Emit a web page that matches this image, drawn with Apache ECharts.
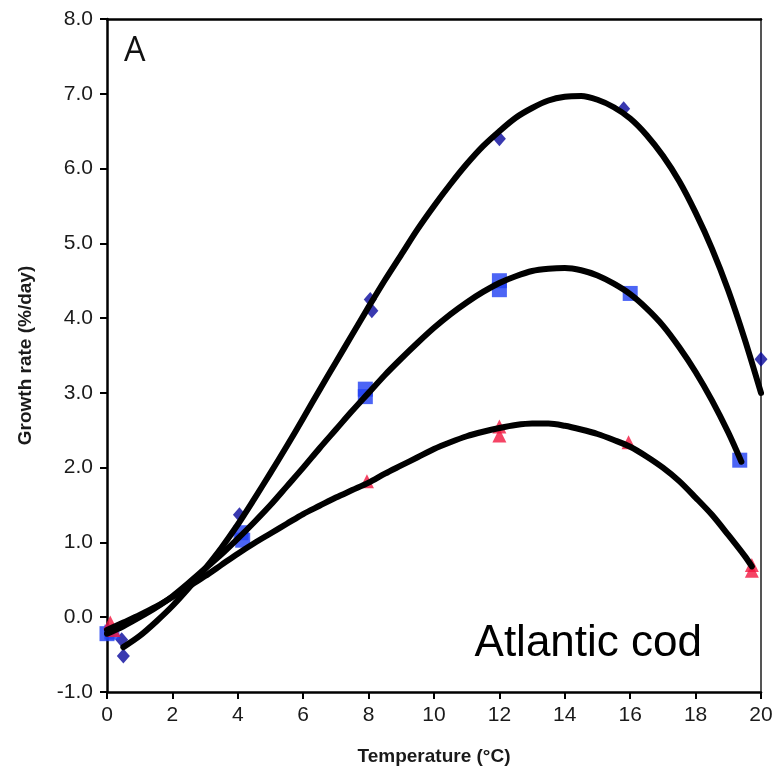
<!DOCTYPE html>
<html>
<head>
<meta charset="utf-8">
<script src="https://cdn.jsdelivr.net/npm/echarts@6/dist/echarts.min.js"></script>
<style>
html,body{margin:0;padding:0;background:#fff;}
#chart{width:777px;height:771px;}
</style>
</head>
<body>
<div id="chart"></div>
<script>
// Observed points (temperature °C, growth rate %/day)
var diamondT = [0.45, 0.5, 4.05, 8.05, 8.1, 12.0, 15.8, 20.0];
var diamondG = [-0.3, -0.52, 1.37, 4.25, 4.1, 6.4, 6.8, 3.45];
var squareT = [0.0, 0.15, 4.1, 4.15, 7.9, 7.9, 12.0, 12.0, 16.0, 19.35];
var squareG = [-0.22, -0.2, 1.13, 1.03, 3.05, 2.95, 4.5, 4.38, 4.33, 2.1];
var triT = [0.1, 0.2, 7.95, 12.0, 12.0, 15.95, 19.72, 19.72];
var triG = [-0.07, -0.17, 1.82, 2.55, 2.43, 2.34, 0.7, 0.62];

// Fitted curves, every 0.5 °C
var topCurveT = [0.5, 1, 1.5, 2, 2.5, 3, 3.5, 4, 4.5, 5, 5.5, 6, 6.5, 7, 7.5, 8, 8.5, 9, 9.5, 10, 10.5, 11, 11.5, 12, 12.5, 13, 13.5, 14, 14.5, 15, 15.5, 16, 16.5, 17, 17.5, 18, 18.5, 19, 19.5, 20];
var topCurveG = [-0.4, -0.25, -0.06, 0.15, 0.39, 0.65, 0.93, 1.24, 1.58, 1.93, 2.29, 2.66, 3.04, 3.41, 3.78, 4.15, 4.51, 4.85, 5.19, 5.5, 5.79, 6.06, 6.3, 6.5, 6.68, 6.81, 6.91, 6.96, 6.97, 6.92, 6.82, 6.67, 6.45, 6.17, 5.83, 5.41, 4.93, 4.37, 3.72, 3.0];
var midCurveT = [0, 0.5, 1, 1.5, 2, 2.5, 3, 3.5, 4, 4.5, 5, 5.5, 6, 6.5, 7, 7.5, 8, 8.5, 9, 9.5, 10, 10.5, 11, 11.5, 12, 12.5, 13, 13.5, 14, 14.5, 15, 15.5, 16, 16.5, 17, 17.5, 18, 18.5, 19, 19.4];
var midCurveG = [-0.22, -0.12, 0.0, 0.13, 0.28, 0.46, 0.65, 0.84, 1.05, 1.27, 1.5, 1.75, 2.0, 2.26, 2.51, 2.76, 3.0, 3.24, 3.46, 3.67, 3.87, 4.05, 4.21, 4.35, 4.47, 4.56, 4.63, 4.66, 4.67, 4.64, 4.57, 4.46, 4.32, 4.13, 3.9, 3.61, 3.28, 2.9, 2.47, 2.08];
var lowCurveT = [0, 0.5, 1, 1.5, 2, 2.5, 3, 3.5, 4, 4.5, 5, 5.5, 6, 6.5, 7, 7.5, 8, 8.5, 9, 9.5, 10, 10.5, 11, 11.5, 12, 12.5, 13, 13.5, 14, 14.5, 15, 15.5, 16, 16.5, 17, 17.5, 18, 18.5, 19, 19.5, 19.72];
var lowCurveG = [-0.17, -0.07, 0.03, 0.14, 0.27, 0.41, 0.55, 0.7, 0.85, 0.99, 1.12, 1.25, 1.38, 1.49, 1.6, 1.7, 1.8, 1.92, 2.03, 2.14, 2.25, 2.34, 2.42, 2.48, 2.53, 2.57, 2.59, 2.59, 2.56, 2.51, 2.45, 2.37, 2.28, 2.15, 2.0, 1.82, 1.6, 1.37, 1.1, 0.82, 0.68];

var xTicks = [0, 2, 4, 6, 8, 10, 12, 14, 16, 18, 20];
var yTicks = [-1, 0, 1, 2, 3, 4, 5, 6, 7, 8];

function pairs(a, b) { return a.map(function (v, i) { return [v, b[i]]; }); }

var chart = echarts.init(document.getElementById('chart'), null, {renderer: 'canvas'});
var labelFont = {fontFamily: 'Liberation Sans, Arial, sans-serif', fontSize: 21, color: '#1a1a1a'};

var option = {
  backgroundColor: '#fff',
  animation: false,
  grid: {left: 107, right: 16, top: 19, bottom: 78, containLabel: false},
  xAxis: [{
    type: 'value', min: xTicks[0], max: xTicks[xTicks.length - 1], interval: 2,
    name: 'Temperature (°C)', nameLocation: 'middle', nameGap: 55,
    nameTextStyle: {fontFamily: 'Liberation Sans, Arial, sans-serif', fontSize: 19, fontWeight: 'bold', color: '#1a1a1a'},
    axisLine: {show: true, onZero: false, lineStyle: {color: '#000', width: 2.5}},
    axisTick: {show: true, inside: false, length: 7, lineStyle: {color: '#000', width: 2}},
    axisLabel: Object.assign({margin: 13}, labelFont),
    splitLine: {show: false}
  }, {
    type: 'value', position: 'top', min: 0, max: 20,
    axisLine: {show: true, onZero: false, lineStyle: {color: '#000', width: 2.5}},
    axisTick: {show: false}, axisLabel: {show: false}, splitLine: {show: false}
  }],
  yAxis: [{
    type: 'value', min: yTicks[0], max: yTicks[yTicks.length - 1], interval: 1,
    name: 'Growth rate (%/day)', nameLocation: 'middle', nameGap: 72, nameRotate: 90,
    nameTextStyle: {fontFamily: 'Liberation Sans, Arial, sans-serif', fontSize: 19, fontWeight: 'bold', color: '#1a1a1a'},
    axisLine: {show: true, onZero: false, lineStyle: {color: '#000', width: 2.5}},
    axisTick: {show: true, inside: false, length: 7, lineStyle: {color: '#000', width: 2}},
    axisLabel: Object.assign({margin: 14, formatter: function (v) { return v.toFixed(1); }}, labelFont),
    splitLine: {show: false}
  }, {
    type: 'value', position: 'right', min: -1, max: 8,
    axisLine: {show: true, onZero: false, lineStyle: {color: '#555', width: 2}},
    axisTick: {show: false}, axisLabel: {show: false}, splitLine: {show: false}
  }],
  graphic: [{
    type: 'text', left: 124, top: 34,
    style: {text: 'A', font: '34px "Open Sans", "Liberation Sans", sans-serif', fill: '#111'}
  }, {
    type: 'text', right: 75, top: 622,
    style: {text: 'Atlantic cod', font: '44px "Liberation Sans", "Open Sans", sans-serif', fill: '#000', textAlign: 'right'}
  }],
  series: [
    {type: 'scatter', name: 'diamond', data: pairs(diamondT, diamondG), symbol: 'diamond', symbolSize: [13, 15],
      itemStyle: {color: '#08089c'}, z: 2},
    {type: 'scatter', name: 'square', data: pairs(squareT, squareG), symbol: 'rect', symbolSize: 15,
      itemStyle: {color: '#1f3ef2'}, z: 2},
    {type: 'scatter', name: 'triangle', data: pairs(triT, triG), symbol: 'triangle', symbolSize: 14,
      itemStyle: {color: '#f2153e'}, z: 2},
    {type: 'line', data: pairs(topCurveT, topCurveG), smooth: 0.3, showSymbol: false,
      lineStyle: {color: '#000', width: 6, cap: 'round', join: 'round'}, z: 5},
    {type: 'line', data: pairs(midCurveT, midCurveG), smooth: 0.3, showSymbol: false,
      lineStyle: {color: '#000', width: 6, cap: 'round', join: 'round'}, z: 5},
    {type: 'line', data: pairs(lowCurveT, lowCurveG), smooth: 0.3, showSymbol: false,
      lineStyle: {color: '#000', width: 6, cap: 'round', join: 'round'}, z: 5}
  ]
};
chart.setOption(option);
</script>
</body>
</html>
